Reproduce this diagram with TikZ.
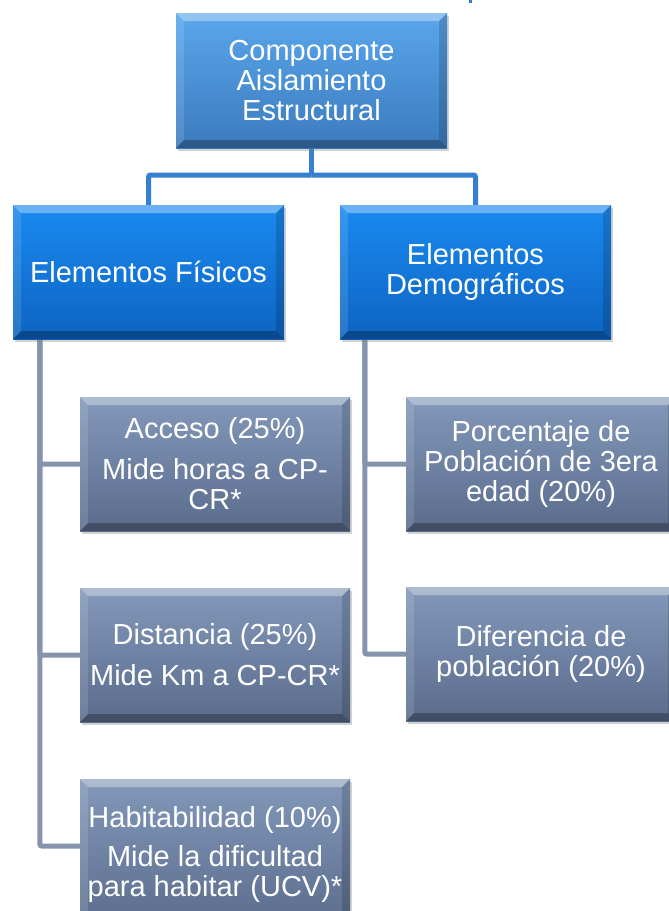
\documentclass[tikz,border=0pt]{standalone}
\usepackage{fontspec}
\setmainfont{Liberation Sans}
\usetikzlibrary{shadows,backgrounds}
\definecolor{topA}{HTML}{5AA6EC}
\definecolor{topB}{HTML}{3B7BBE}
\definecolor{midA}{HTML}{1A8AF0}
\definecolor{midB}{HTML}{0D64C2}
\definecolor{lowA}{HTML}{8398BA}
\definecolor{lowB}{HTML}{5A6C8C}
\definecolor{bconn}{HTML}{3580CF}
\definecolor{gconn}{HTML}{8593AD}
\tikzset{
  bev/.style={path picture={
    \fill[white,opacity=0.35] (path picture bounding box.north west) -- (path picture bounding box.north east)
      -- ([xshift=-8pt,yshift=-8pt]path picture bounding box.north east) -- ([xshift=8pt,yshift=-8pt]path picture bounding box.north west) -- cycle;
    \fill[black,opacity=0.28] (path picture bounding box.south west) -- (path picture bounding box.south east)
      -- ([xshift=-8pt,yshift=8pt]path picture bounding box.south east) -- ([xshift=8pt,yshift=8pt]path picture bounding box.south west) -- cycle;
    \fill[white,opacity=0.12] (path picture bounding box.north west) -- ([xshift=8pt,yshift=-8pt]path picture bounding box.north west)
      -- ([xshift=8pt,yshift=8pt]path picture bounding box.south west) -- (path picture bounding box.south west) -- cycle;
    \fill[black,opacity=0.15] (path picture bounding box.north east) -- ([xshift=-8pt,yshift=-8pt]path picture bounding box.north east)
      -- ([xshift=-8pt,yshift=8pt]path picture bounding box.south east) -- (path picture bounding box.south east) -- cycle;
  }},
  boxbase/.style={rectangle, inner sep=0pt, align=center, text=white,
    font=\fontsize{29}{30}\selectfont, bev,
    drop shadow={shadow xshift=2pt, shadow yshift=-3pt, opacity=0.35}},
  topbox/.style={boxbase, top color=topA, bottom color=topB, minimum width=271pt, minimum height=135pt},
  midbox/.style={boxbase, top color=midA, bottom color=midB, minimum width=271pt, minimum height=134pt},
  lowbox/.style={boxbase, top color=lowA, bottom color=lowB, minimum width=270pt, minimum height=134pt},
  bline/.style={draw=bconn, line width=5pt, rounded corners=2pt},
  gline/.style={draw=gconn, line width=5pt, rounded corners=2pt},
}
\begin{document}
\begin{tikzpicture}[x=1pt,y=-1pt]
\useasboundingbox (0,0) rectangle (669,911);
\clip (0,0) rectangle (669,911);

\node[topbox] (top) at (311.5,80.5) {Componente\\Aislamiento\\Estructural};
\node[midbox] (fis) at (148.5,272) {Elementos Físicos};
\node[midbox] (dem) at (475.5,272) {Elementos\\Demográficos};

\node[lowbox] (acc) at (215,464) {Acceso (25\%)\\[11pt]Mide horas a CP-\\CR*};
\node[lowbox] (dist) at (215,655) {Distancia (25\%)\\[11pt]Mide Km a CP-CR*};
\node[lowbox, minimum height=150pt] (hab) at (215,854) {Habitabilidad (10\%)\\[9pt]Mide la dificultad\\para habitar (UCV)*};
\node[lowbox] (porc) at (541,464) {Porcentaje de\\Población de 3era\\edad (20\%)};
\node[lowbox] (dif) at (541,654) {Diferencia de\\población (20\%)};

\coordinate (bh) at (311.5,175);
\coordinate (frag) at (469,0);
\coordinate (habin) at ([yshift=8pt]hab.west);

\begin{scope}[on background layer]
\fill[white] (0,0) rectangle (669,911);
\fill[bconn] (frag) rectangle ++(3,3);
\draw[bline] (top.south) -- (bh);
\draw[bline] (bh) -| (fis.north);
\draw[bline] (bh) -| (dem.north);
\draw[gline] ([xshift=27pt]fis.south west) |- (acc.west);
\draw[gline] ([xshift=27pt]fis.south west) |- (dist.west);
\draw[gline] ([xshift=27pt]fis.south west) |- (habin);
\draw[gline] ([xshift=25pt]dem.south west) |- (porc.west);
\draw[gline] ([xshift=25pt]dem.south west) |- (dif.west);
\end{scope}
\end{tikzpicture}
\end{document}
